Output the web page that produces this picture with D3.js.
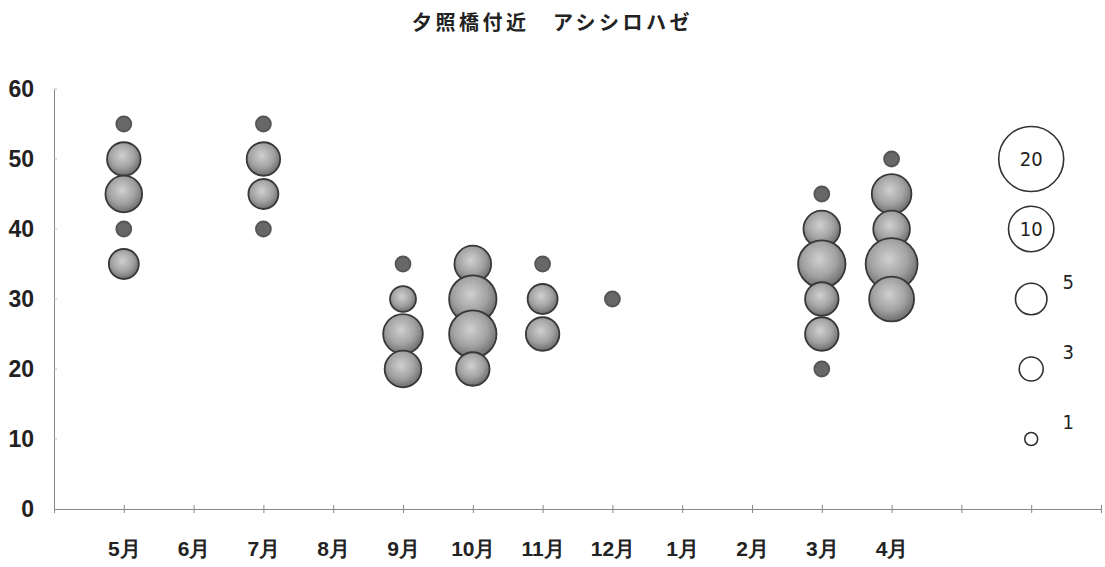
<!DOCTYPE html>
<html lang="ja">
<head>
  <meta charset="UTF-8">
  <title>夕照橋付近 アシシロハゼ</title>
  <script src="https://d3js.org/d3.v7.min.js"></script>
  <style>
    html, body {
      margin: 0;
      padding: 0;
      background: #fff;
    }
    svg {
      display: block;
      font-family: "Liberation Sans Narrow", "DejaVu Sans Condensed", "Noto Sans CJK JP", sans-serif;
      font-weight: bold;
      fill: #222;
    }
  </style>
</head>
<body>
  <svg id="chart" width="1105" height="567"></svg>

  <script>
// month labels sit on x = 1..12
const months = ["5月", "6月", "7月", "8月", "9月", "10月", "11月", "12月", "1月", "2月", "3月", "4月"];
const yTicks = [0, 10, 20, 30, 40, 50, 60];

// one entry per bubble: month position, depth value, count
const bubbleMonth = [1, 1, 1, 1, 1,  3, 3, 3, 3,  5, 5, 5, 5,  6, 6, 6, 6,  7, 7, 7,  8,  11, 11, 11, 11, 11, 11,  12, 12, 12, 12, 12];
const bubbleDepth = [55, 50, 45, 40, 35,  55, 50, 45, 40,  35, 30, 25, 20,  35, 30, 25, 20,  35, 30, 25,  30,  45, 40, 35, 30, 25, 20,  50, 45, 40, 35, 30];
const bubbleCount = [1, 5, 6, 1, 4,  1, 5, 4, 1,  1, 3, 7, 6,  6, 10, 10, 5,  1, 4, 5,  1,  1, 6, 10, 5, 5, 1,  1, 7, 6, 12, 9];

// size legend drawn inside the plot at x = 14
const legendSizes = [20, 10, 5, 3, 1];
const legendY = [50, 40, 30, 20, 10];

const svg = d3.select("#chart");
const width = +svg.attr("width");
const height = +svg.attr("height");

const x = d3.scaleLinear().domain([0, 15]).range([54, 1101]);
const y = d3.scaleLinear().domain([0, 60]).range([509, 89]);
const r = d3.scaleSqrt().domain([0, 20]).range([0, 33.5]);

const defs = svg.append("defs");
const grad = defs.append("radialGradient")
  .attr("id", "ball")
  .attr("cx", "45%").attr("cy", "40%").attr("r", "60%");
grad.append("stop").attr("offset", "0%").attr("stop-color", "#d0d0d0");
grad.append("stop").attr("offset", "60%").attr("stop-color", "#a2a2a2");
grad.append("stop").attr("offset", "100%").attr("stop-color", "#6e6e6e");

// title
svg.append("text")
  .attr("x", width / 2)
  .attr("y", 30)
  .attr("text-anchor", "middle")
  .attr("font-size", "20px")
  .attr("letter-spacing", "3.5px")
  .text("夕照橋付近　アシシロハゼ");

// axes
const yAxis = svg.append("g")
  .attr("transform", `translate(${x(0)},0)`)
  .call(d3.axisLeft(y).tickValues(yTicks).tickSize(0).tickPadding(20));
yAxis.select(".domain").attr("stroke", "#888");
yAxis.selectAll("text")
  .attr("font-size", "23px")
  .attr("font-family", "inherit")
  .attr("fill", "#222");

svg.append("g")
  .selectAll("line")
  .data(yTicks.slice(1))
  .enter()
  .append("line")
  .attr("x1", x(0)).attr("x2", x(0) + 3)
  .attr("y1", d => y(d)).attr("y2", d => y(d))
  .attr("stroke", "#bbb");

const xAxis = svg.append("g")
  .attr("transform", `translate(0,${y(0)})`)
  .call(d3.axisBottom(x)
    .tickValues(d3.range(1, 16))
    .tickSize(4)
    .tickFormat(d => months[d - 1] || ""));
xAxis.select(".domain").attr("stroke", "#888");
xAxis.selectAll(".tick line").attr("stroke", "#888").attr("y1", -4);
xAxis.selectAll("text")
  .attr("y", 32)
  .attr("font-size", "21px")
  .attr("font-family", "inherit")
  .attr("fill", "#222");

// bubbles
const bubbles = bubbleMonth.map((m, i) => ({ m, depth: bubbleDepth[i], n: bubbleCount[i] }));

svg.append("g")
  .selectAll("circle")
  .data(bubbles)
  .enter()
  .append("circle")
  .attr("cx", d => x(d.m))
  .attr("cy", d => y(d.depth))
  .attr("r", d => r(d.n))
  .attr("fill", d => d.n === 1 ? "#676767" : "url(#ball)")
  .attr("stroke", d => d.n === 1 ? "#555" : "#383838")
  .attr("stroke-width", 1.8);

// size legend
const legend = legendSizes.map((s, i) => ({ s, v: legendY[i] }));
const lg = svg.append("g");

lg.selectAll("circle")
  .data(legend)
  .enter()
  .append("circle")
  .attr("cx", x(14))
  .attr("cy", d => y(d.v))
  .attr("r", d => r(d.s) - 1)
  .attr("fill", "#fff")
  .attr("stroke", "#333")
  .attr("stroke-width", 1.6);

lg.selectAll("text")
  .data(legend)
  .enter()
  .append("text")
  .attr("x", d => d.s >= 10 ? x(14) : x(14) + 37)
  .attr("y", d => d.s >= 10 ? y(d.v) + 7 : y(d.v) - 10)
  .attr("text-anchor", "middle")
  .attr("font-size", "20px")
  .attr("font-weight", "normal")
  .text(d => d.s);
  </script>
</body>
</html>
